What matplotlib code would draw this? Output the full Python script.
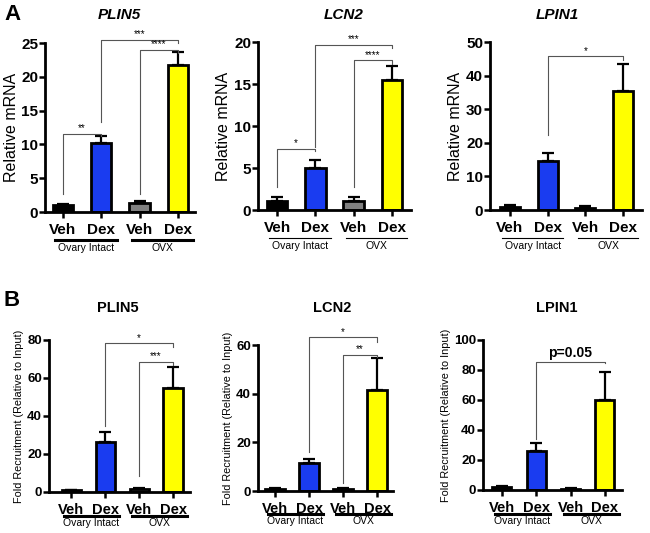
import matplotlib
matplotlib.use("Agg")
import matplotlib.pyplot as plt
import matplotlib.transforms as mtransforms

plt.rcParams['font.family'] = ['Liberation Sans', 'DejaVu Sans']

# bar groups
conditions = ["Veh", "Dex", "Veh", "Dex"]
bar_colors = ["#000000", "#1a3cf0", "#808080", "#ffff00"]
group_names = ["Ovary Intact", "OVX"]

# A: relative mRNA (mean, upper error)
a_plin5 = [1.1, 10.2, 1.4, 21.7]
a_plin5_err = [0.15, 1.0, 0.3, 2.0]
a_lcn2 = [1.1, 5.0, 1.1, 15.5]
a_lcn2_err = [0.4, 0.9, 0.5, 1.7]
a_lpin1 = [0.8, 14.7, 0.7, 35.5]
a_lpin1_err = [0.6, 2.3, 0.5, 8.0]

# B: fold recruitment (mean, upper error)
b_plin5 = [1.0, 26.5, 1.5, 55.0]
b_plin5_err = [0.3, 5.0, 0.8, 11.0]
b_lcn2 = [1.0, 11.5, 1.0, 41.5]
b_lcn2_err = [0.3, 1.5, 0.3, 13.0]
b_lpin1 = [1.8, 26.0, 1.0, 60.0]
b_lpin1_err = [0.8, 5.5, 0.4, 19.0]

# significance brackets: (x1, x2, y, y_left_end, y_right_end, label)
a_plin5_sig = [(0, 1, 11.5, 2.6, 11.3, "**"), (1, 3, 25.5, 13.3, 25.0, "***"),
               (2, 3, 24.0, 2.6, 23.5, "****")]
a_lcn2_sig = [(0, 1, 7.3, 2.7, 7.0, "*"), (1, 3, 19.6, 7.5, 19.3, "***"),
              (2, 3, 17.8, 2.7, 17.4, "****")]
a_lpin1_sig = [(1, 3, 45.7, 22.3, 44.7, "*")]
b_plin5_sig = [(1, 3, 78.2, 34.6, 76.5, "*"), (2, 3, 68.6, 8.3, 66.8, "***")]
b_lcn2_sig = [(1, 3, 63.1, 16.1, 61.3, "*"), (2, 3, 55.9, 3.3, 54.9, "**")]
b_lpin1_sig = [(1, 3, 85.5, 34.1, 84.4, "p=0.05")]

W, H = 650, 533
fig = plt.figure(figsize=(6.5, 5.33), dpi=100)


def px_axes(l, r, t, b):
    return fig.add_axes([l / W, 1 - b / H, (r - l) / W, (b - t) / H])


def panel(box, vals, errs, ymax, step, sig, title, title_xy, italic, ylabel,
          ylab_x, xlim, width, row):
    ax = px_axes(*box)
    x = range(len(vals))
    ax.bar(x, vals, width=width, color=bar_colors, edgecolor="black",
           linewidth=2, zorder=2)
    ax.errorbar(x, vals, yerr=[[0] * 4, errs], fmt="none", ecolor="black",
                elinewidth=1.6, capsize=4.5, capthick=1.6, zorder=1)
    ax.set_ylim(0, ymax)
    ax.set_yticks(range(0, ymax + 1, step))
    ax.set_xlim(*xlim)
    ax.set_xticks(list(x))
    ax.set_xticklabels(conditions)
    for s in ["top", "right"]:
        ax.spines[s].set_visible(False)
    for s in ["left", "bottom"]:
        ax.spines[s].set_linewidth(2)
    fs_x = 11 if row == "A" else 10.5
    fs_y = 11 if row == "A" else 9.5
    ax.tick_params(axis="y", width=1.8, length=4, labelsize=fs_y, pad=1)
    ax.tick_params(axis="x", width=1.8, length=4, labelsize=fs_x, pad=4)
    for lab in ax.get_xticklabels() + ax.get_yticklabels():
        lab.set_fontweight("bold")
    ax.set_ylabel(ylabel, fontsize=11.5 if row == "A" else 7.8)
    ax.yaxis.set_label_coords(ylab_x, 0.5)

    for x1, x2, yb, yl, yr, lab in sig:
        ax.plot([x1, x1, x2, x2], [yl, yb, yb, yr], color="#555555", lw=0.8,
                clip_on=False, zorder=3)
        if lab.startswith("p"):
            ax.text((x1 + x2) / 2, yb + ymax * 0.01, lab, ha="center",
                    va="bottom", fontsize=10, fontweight="bold")
        else:
            ax.text((x1 + x2) / 2, yb + ymax * 0.005, lab, ha="center",
                    va="bottom", fontsize=7)

    # group underlines
    trans = mtransforms.blended_transform_factory(ax.transData, ax.transAxes)
    thick = 2.2 if (row == "B" or title == "PLIN5") else 0.8
    yline = -0.165 if row == "A" else -0.16
    ytxt = -0.215 if row == "A" else -0.205
    for (g0, g1), name in zip([(-0.2, 1.4), (1.8, 3.4)], group_names):
        ax.plot([g0, g1], [yline, yline], color="black", lw=thick,
                transform=trans, clip_on=False)
        ax.text((g0 + g1) / 2, ytxt, name, transform=trans, ha="center",
                va="center", fontsize=7.5)

    fig.text(title_xy[0] / W, 1 - title_xy[1] / H, title, ha="center",
             va="center", fontsize=11 if row == "A" else 10.5,
             fontweight="bold", fontstyle="italic" if italic else "normal")
    return ax


rel = "Relative mRNA"
fold = "Fold Recruitment (Relative to Input)"

panel((45, 195, 43, 212), a_plin5, a_plin5_err, 25, 5, a_plin5_sig, "PLIN5",
      (119, 15), True, rel, -0.173, (-0.47, 3.45), 0.53, "A")
panel((258, 411, 42, 210), a_lcn2, a_lcn2_err, 20, 5, a_lcn2_sig, "LCN2",
      (344, 15), True, rel, -0.176, (-0.5, 3.5), 0.53, "A")
panel((490, 642, 42, 210), a_lpin1, a_lpin1_err, 50, 10, a_lpin1_sig, "LPIN1",
      (557, 15), True, rel, -0.178, (-0.53, 3.5), 0.53, "A")

panel((49, 190, 340, 492), b_plin5, b_plin5_err, 80, 20, b_plin5_sig, "PLIN5",
      (118, 308), False, fold, -0.175, (-0.65, 3.5), 0.56, "B")
panel((258, 393, 345, 491), b_lcn2, b_lcn2_err, 60, 20, b_lcn2_sig, "LCN2",
      (332, 308), False, fold, -0.185, (-0.5, 3.47), 0.56, "B")
panel((483, 622, 340, 490), b_lpin1, b_lpin1_err, 100, 20, b_lpin1_sig, "LPIN1",
      (557, 308), False, fold, -0.23, (-0.55, 3.5), 0.56, "B")

fig.text(12 / W, 1 - 15 / H, "A", ha="center", va="center", fontsize=16,
         fontweight="bold")
fig.text(12 / W, 1 - 300 / H, "B", ha="center", va="center", fontsize=16,
         fontweight="bold")

fig.savefig("out.png", dpi=100)
